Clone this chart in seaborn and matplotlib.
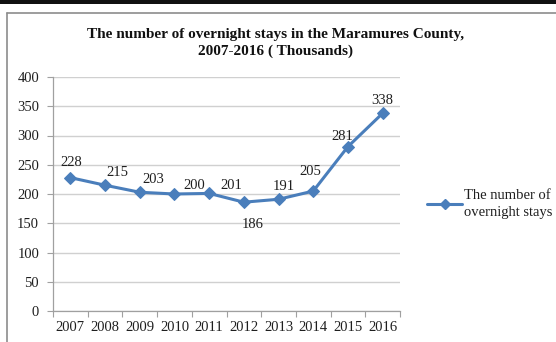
import matplotlib
matplotlib.use("Agg")
import matplotlib.pyplot as plt
from matplotlib.lines import Line2D
from matplotlib.patches import Rectangle
import seaborn as sns
import pandas as pd
import numpy as np

years = ["2007", "2008", "2009", "2010", "2011", "2012", "2013", "2014", "2015", "2016"]
stays = [228, 215, 203, 200, 201, 186, 191, 205, 281, 338]
series_name = "The number of\novernight stays"
title = "The number of overnight stays in the Maramures County,\n2007-2016 ( Thousands)"
y_ticks = [0, 50, 100, 150, 200, 250, 300, 350, 400]
# label nudges in points (dx, dy)
label_offsets = [(1, 11), (9, 9), (10, 9), (14, 6), (16, 6), (6, -16), (4, 9), (-2, 14), (-4, 7), (0, 9)]

sns.set_theme(style="white")
plt.rcParams["font.family"] = ["Liberation Serif", "DejaVu Serif"]

blue = "#4a7ebb"
text_col = "#1f1f1f"

fig = plt.figure(figsize=(5.56, 3.42), dpi=100)
fig.patch.set_facecolor("white")
ax = fig.add_axes([53 / 556, 1 - 311 / 342, (400 - 53) / 556, (311 - 77) / 342])

df = pd.DataFrame({"year": years, "stays": stays})
df["pos"] = np.arange(len(df))
sns.lineplot(data=df, x="pos", y="stays", ax=ax, color=blue, linewidth=2.2,
             marker="D", markersize=6.5, markeredgecolor=blue, sort=False, legend=False)

ax.set_xlim(-0.5, len(years) - 0.5)
ax.set_ylim(0, 400)
ax.set_yticks(y_ticks)
ax.set_yticklabels([str(v) for v in y_ticks], fontsize=10.5, color=text_col)
ax.set_xticks(df["pos"])
ax.set_xticklabels(years, fontsize=10.5, color=text_col)
ax.set_xticks(np.arange(-0.5, len(years)), minor=True)
ax.tick_params(axis="x", which="major", length=0, pad=7)
ax.tick_params(axis="x", which="minor", length=4, color="#a0a0a0", width=0.8, bottom=True)
ax.tick_params(axis="y", which="major", length=4, color="#a0a0a0", width=0.8, left=True, pad=6)
ax.set_xlabel("")
ax.set_ylabel("")
ax.grid(axis="y", color="#d0d0d0", linewidth=1.0)
ax.grid(axis="x", visible=False)
ax.set_axisbelow(True)
for side in ["top", "right"]:
    ax.spines[side].set_visible(False)
for side in ["left", "bottom"]:
    ax.spines[side].set_color("#a0a0a0")
    ax.spines[side].set_linewidth(0.9)

for i, (v, (dx, dy)) in enumerate(zip(stays, label_offsets)):
    ax.annotate(str(v), xy=(i, v), xytext=(dx, dy), textcoords="offset points",
                ha="center", va="center", fontsize=10.5, color=text_col)

fig.text(0.495, 1 - 43 / 342, title, ha="center", va="center", fontsize=11,
         fontweight="bold", color="#111111", linespacing=1.25)

# legend entry
handle = Line2D([], [], color=blue, linewidth=2.2, marker="D", markersize=5)
leg = fig.legend([handle], [series_name], loc="center left",
                 bbox_to_anchor=(414 / 556, 1 - 204 / 342), frameon=False,
                 fontsize=10.5, handlelength=2.4, handletextpad=0.15, labelspacing=0.1)
for t in leg.get_texts():
    t.set_color(text_col)
    t.set_linespacing(1.45)

# outer chart frame and dark top band
fig.patches.append(Rectangle((0, 1 - 4 / 342), 1, 4 / 342, transform=fig.transFigure,
                             facecolor="#111111", edgecolor="none"))
fig.lines.append(Line2D([7 / 556, 1], [1 - 13 / 342, 1 - 13 / 342], transform=fig.transFigure,
                        color="#8c8c8c", linewidth=1.2))
fig.lines.append(Line2D([7 / 556, 7 / 556], [0, 1 - 13 / 342], transform=fig.transFigure,
                        color="#8c8c8c", linewidth=1.2))

fig.savefig("out.png", dpi=100, facecolor="white")
